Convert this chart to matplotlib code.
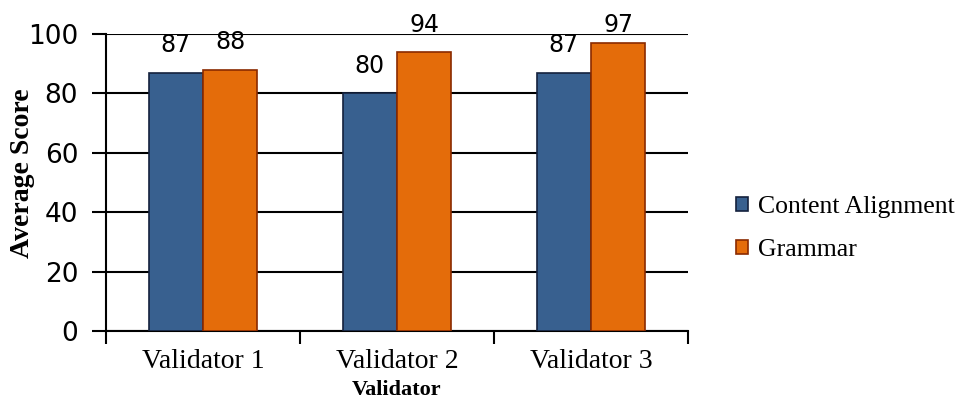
import numpy as np
import matplotlib
matplotlib.use("Agg")
import matplotlib.pyplot as plt

# scores per validator
validators = ["Validator 1", "Validator 2", "Validator 3"]
content_alignment = [87, 80, 87]
grammar = [88, 94, 97]
series_names = ["Content Alignment", "Grammar"]

blue = "#38608F"
orange = "#E46C0A"

fig = plt.figure(figsize=(9.63, 4.01), dpi=100)
ax = fig.add_axes([0.1101, 0.1746, 0.6044, 0.7406])

x = np.arange(len(validators))
w = 0.28
b1 = ax.bar(x - w / 2, content_alignment, w, color=blue, edgecolor="#14213d",
            linewidth=1.2, zorder=3, label=series_names[0])
b2 = ax.bar(x + w / 2, grammar, w, color=orange, edgecolor="#8a2a00",
            linewidth=1.2, zorder=3, label=series_names[1])

# value labels above bars, kept inside the chart area
for bars, vals in ((b1, content_alignment), (b2, grammar)):
    for rect, v in zip(bars, vals):
        ly = min(v + 9.3, 102.9)
        ax.text(rect.get_x() + rect.get_width() / 2, ly, f"{v}",
                ha="center", va="center", fontsize=17,
                family="DejaVu Sans", clip_on=False, zorder=4)

ax.set_xlim(-0.5, 2.5)
ax.set_ylim(0, 100)
ax.set_yticks(range(0, 101, 20))
ax.yaxis.grid(True, color="black", linewidth=1.5, zorder=0)
ax.set_axisbelow(True)

for s in ("top", "right"):
    ax.spines[s].set_visible(False)
for s in ("left", "bottom"):
    ax.spines[s].set_linewidth(1.5)

ax.tick_params(axis="y", length=10, width=1.5, pad=10, labelsize=19)
for lab in ax.get_yticklabels():
    lab.set_family("DejaVu Sans")

ax.set_xticks(x)
ax.set_xticklabels(validators, family="Liberation Serif", fontsize=20)
ax.tick_params(axis="x", which="major", length=0, pad=13)
ax.set_xticks([-0.5, 0.5, 1.5, 2.5], minor=True)
ax.tick_params(axis="x", which="minor", length=9, width=1.5)

ax.set_xlabel("Validator", family="Liberation Serif", fontweight="bold",
              fontsize=16, va="bottom")
ax.xaxis.set_label_coords(0.5, -0.232)
ax.set_ylabel("Average Score", family="Liberation Serif", fontweight="bold",
              fontsize=20, va="center")
ax.yaxis.set_label_coords(-0.144, 0.53)

fig.legend(handles=[b1, b2], labels=series_names, loc="center left",
           bbox_to_anchor=(0.74, 0.43), frameon=False,
           prop={"family": "Liberation Serif", "size": 18.5},
           handlelength=0.47, handleheight=0.47, handletextpad=0.4,
           labelspacing=0.8)

fig.savefig("out.png", dpi=100)
